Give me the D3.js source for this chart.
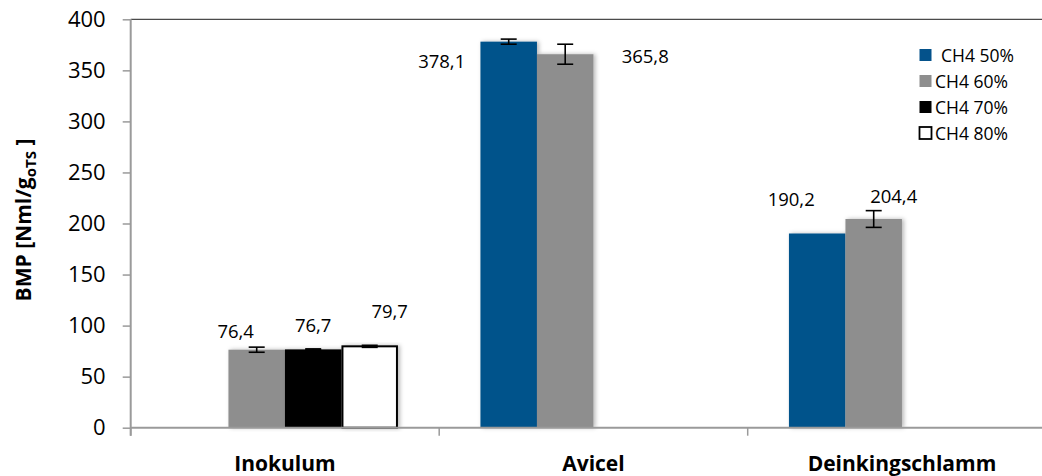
<!DOCTYPE html>
<html>
<head>
<meta charset="utf-8">
<script src="https://cdn.jsdelivr.net/npm/d3@7"></script>
<style>
  html, body { margin: 0; padding: 0; background: #fff; }
  svg { display: block; font-family: "Open Sans", "DejaVu Sans", sans-serif; }
</style>
</head>
<body>
<svg id="chart" width="1042" height="476"></svg>
<script>
// Substrates on the x axis
const categories = ["Inokulum", "Avicel", "Deinkingschlamm"];
// Methane content series
const seriesNames = ["CH4 50%", "CH4 60%", "CH4 70%", "CH4 80%"];
// BMP means per series (null = not measured)
const ch4_50 = [null, 378.1, 190.2];
const ch4_60 = [76.4, 365.8, 204.4];
const ch4_70 = [76.7, null, null];
const ch4_80 = [79.7, null, null];
// Standard deviations for the error bars
const err_50 = [null, 2.5, 0];
const err_60 = [2.5, 9.8, 8.2];
const err_70 = [0.5, null, null];
const err_80 = [1.0, null, null];
// Y axis ticks
const yTicks = [0, 50, 100, 150, 200, 250, 300, 350, 400];

const seriesValues = [ch4_50, ch4_60, ch4_70, ch4_80];
const seriesErrors = [err_50, err_60, err_70, err_80];
const fills = ["#04528b", "#8e8e8e", "#000000", "#ffffff"];
const strokes = ["none", "none", "none", "#000000"];

// Hand-placed value label offsets (relative to bar centre / bar top), keyed "series|category"
const labelOffsets = {
  "1|0": [-21, -12], "2|0": [0, -17], "3|0": [20, -28],
  "0|1": [-67, 26], "1|1": [80, 9],
  "0|2": [-26, -28], "1|2": [20, -16]
};

const svg = d3.select("#chart");
const plotLeft = 130.7, plotBottom = 427.7, plotTop = 19.3;
const step = 308.5;

const x0 = d3.scaleBand().domain(categories)
  .range([plotLeft, plotLeft + step * categories.length]).paddingInner(0).paddingOuter(0);
const x1 = d3.scaleBand().domain(d3.range(seriesNames.length))
  .range([0, x0.bandwidth()]).paddingInner(0).paddingOuter(0.73);
const y = d3.scaleLinear().domain([0, 400]).range([plotBottom, plotTop]);

const defs = svg.append("defs");
const f = defs.append("filter").attr("id", "shadow")
  .attr("x", "-20%").attr("y", "-5%").attr("width", "140%").attr("height", "110%");
f.append("feDropShadow").attr("dx", 2).attr("dy", 0).attr("stdDeviation", 2)
  .attr("flood-color", "#000").attr("flood-opacity", 0.28);

// Top frame line
svg.append("line").attr("x1", plotLeft).attr("x2", 1042).attr("y1", y(400)).attr("y2", y(400))
  .attr("stroke", "#4a4a4a").attr("stroke-width", 1.3);

// Y axis
const yAxis = svg.append("g").attr("transform", `translate(${plotLeft},0)`)
  .call(d3.axisLeft(y).tickValues(yTicks).tickSize(8).tickPadding(17).tickFormat(d3.format("d")));
yAxis.select(".domain").attr("stroke", "#9a9a9a").attr("stroke-width", 2)
  .attr("d", `M0,${y(400)}V${plotBottom + 8}`);
yAxis.selectAll(".tick line").attr("stroke", "#9a9a9a").attr("stroke-width", 1.5);
yAxis.selectAll(".tick text").attr("font-size", 22).attr("fill", "#000")
  .attr("font-family", "'Open Sans', sans-serif");

// Bars
const bars = [];
seriesValues.forEach((vals, s) => {
  vals.forEach((v, c) => {
    if (v !== null) bars.push({ s, c, v, e: seriesErrors[s][c] });
  });
});

const barG = svg.append("g");
barG.selectAll("rect").data(bars).join("rect")
  .attr("x", d => x0(categories[d.c]) + x1(d.s) + (d.s === 3 ? 1 : 0))
  .attr("y", d => y(d.v))
  .attr("width", d => x1.bandwidth() - (d.s === 3 ? 2 : 0))
  .attr("height", d => plotBottom - y(d.v))
  .attr("fill", d => fills[d.s])
  .attr("stroke", d => strokes[d.s])
  .attr("stroke-width", 2)
  .attr("filter", "url(#shadow)");

// X axis
const xAxisG = svg.append("g");
xAxisG.append("line").attr("x1", plotLeft).attr("x2", 1042).attr("y1", plotBottom).attr("y2", plotBottom)
  .attr("stroke", "#9a9a9a").attr("stroke-width", 2);
const bounds = categories.map(c => x0(c)).concat([x0.range()[1]]);
xAxisG.selectAll(".xt").data(bounds).join("line").attr("class", "xt")
  .attr("x1", d => d).attr("x2", d => d).attr("y1", plotBottom).attr("y2", plotBottom + 8)
  .attr("stroke", "#9a9a9a").attr("stroke-width", 1.5);
xAxisG.selectAll(".xl").data(categories).join("text").attr("class", "xl")
  .attr("x", d => x0(d) + x0.bandwidth() / 2).attr("y", 471)
  .attr("text-anchor", "middle").attr("font-size", 21).attr("font-weight", "bold")
  .attr("fill", "#000").text(d => d);

// Error bars
const errG = svg.append("g").attr("stroke", "#000").attr("stroke-width", 1.6);
bars.filter(d => d.e).forEach(d => {
  const cx = x0(categories[d.c]) + x1(d.s) + x1.bandwidth() / 2;
  const y1 = y(d.v + d.e), y2 = y(d.v - d.e);
  errG.append("line").attr("x1", cx).attr("x2", cx).attr("y1", y1).attr("y2", y2);
  errG.append("line").attr("x1", cx - 8).attr("x2", cx + 8).attr("y1", y1).attr("y2", y1);
  errG.append("line").attr("x1", cx - 8).attr("x2", cx + 8).attr("y1", y2).attr("y2", y2);
});

// Value labels
const fmt = v => v.toFixed(1).replace(".", ",");
svg.append("g").selectAll("text").data(bars).join("text")
  .attr("x", d => x0(categories[d.c]) + x1(d.s) + x1.bandwidth() / 2 + labelOffsets[d.s + "|" + d.c][0])
  .attr("y", d => y(d.v) + labelOffsets[d.s + "|" + d.c][1])
  .attr("text-anchor", "middle").attr("font-size", 18.5).attr("fill", "#000")
  .text(d => fmt(d.v));

// Y axis title
const yt = svg.append("text").attr("transform", "translate(31,220) rotate(-90)")
  .attr("text-anchor", "middle").attr("font-size", 21).attr("font-weight", "bold").attr("fill", "#000");
yt.append("tspan").text("BMP [Nml/g");
yt.append("tspan").attr("font-size", 15).attr("dy", 5).text("oTS");
yt.append("tspan").attr("dy", -5).text(" ]");

// Legend
const legend = svg.append("g");
const rows = [56, 82, 108, 134];
seriesNames.forEach((name, i) => {
  const g = legend.append("g");
  g.append("rect").attr("x", 919.5).attr("y", rows[i] - 7).attr("width", 12).attr("height", 12)
    .attr("fill", fills[i]).attr("stroke", i === 3 ? "#000" : "none").attr("stroke-width", 1.8);
  g.append("text").attr("x", i === 0 ? 941 : 935).attr("y", rows[i] + 6)
    .attr("font-size", 17.5).attr("fill", "#000").text(name);
});
</script>
</body>
</html>
